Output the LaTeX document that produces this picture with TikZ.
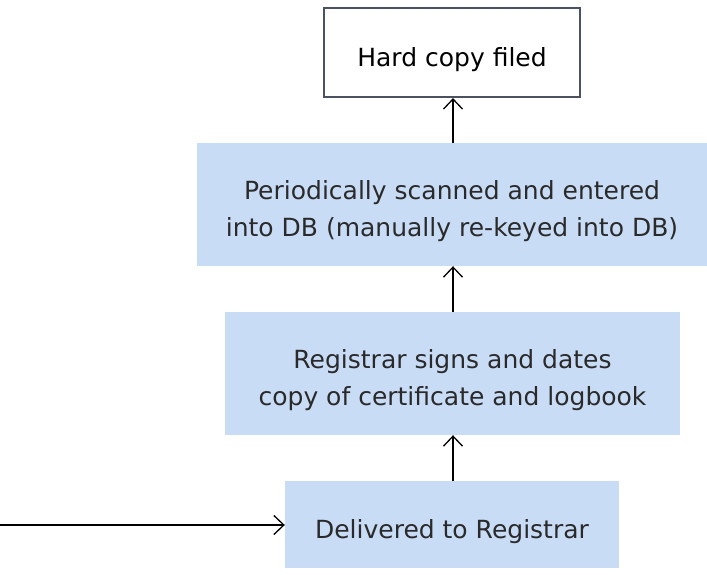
\documentclass[tikz,border=0pt]{standalone}
\usepackage{fontspec}
\setmainfont{DejaVu Sans}
\usetikzlibrary{arrows.meta}
\definecolor{boxfill}{HTML}{C9DCF6}
\definecolor{boxline}{HTML}{4A5160}
\definecolor{txt}{HTML}{2A2A2A}
\tikzset{
  x=1pt,y=-1pt,
  bluebox/.style={fill=boxfill,draw=none,inner sep=0pt},
  whitebox/.style={fill=white,draw=boxline,line width=2.2pt,inner sep=0pt},
  lbl/.style={inner sep=0pt,align=center,text=txt,font=\fontsize{25}{37}\selectfont,yshift=-7pt},
  conn/.style={-{Straight Barb[length=10pt,width=19pt]},line width=1.3pt,draw=black}
}
\begin{document}
\begin{tikzpicture}
\useasboundingbox (0,0) rectangle (707,574);
\node[whitebox,minimum width=256pt,minimum height=89pt] (a) at (452,52.5) {};
\node[bluebox,minimum width=510pt,minimum height=123pt] (b) at (452,204.5) {};
\node[bluebox,minimum width=455pt,minimum height=123pt] (c) at (452.5,373.5) {};
\node[bluebox,minimum width=334pt,minimum height=87pt] (d) at (452,524.5) {};
\node[lbl,text=black] (at) at (a.center) {Hard copy filed};
\node[lbl] (bt) at (b.center) {Periodically scanned and entered\\into DB (manually re-keyed into DB)};
\node[lbl] (ct) at (c.center) {Registrar signs and dates\\copy of certificate and logbook};
\node[lbl] (dt) at (d.center) {Delivered to Registrar};
\coordinate (s) at (0,525);
\draw[conn] (b.north -| 453,0) -- (a.south -| 453,0);
\draw[conn] (c.north -| 453,0) -- (b.south -| 453,0);
\draw[conn] (d.north -| 453,0) -- (c.south -| 453,0);
\draw[conn] (s) -- (d.west |- s);
\end{tikzpicture}
\end{document}
